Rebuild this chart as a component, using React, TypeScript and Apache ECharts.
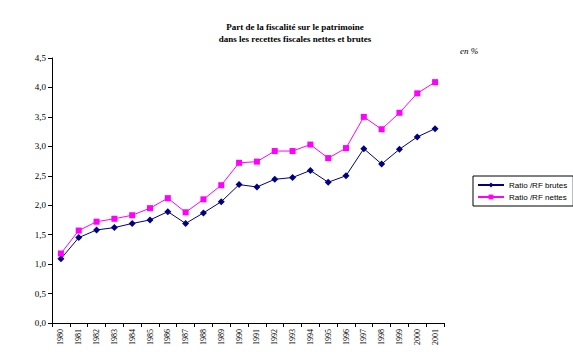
import React, { useEffect, useRef } from "react";
import * as echarts from "echarts";

const years = ["1980","1981","1982","1983","1984","1985","1986","1987","1988","1989","1990","1991","1992","1993","1994","1995","1996","1997","1998","1999","2000","2001"];
const ratioBrutes = [1.09,1.45,1.58,1.62,1.69,1.75,1.89,1.69,1.87,2.06,2.35,2.31,2.44,2.47,2.59,2.39,2.50,2.96,2.70,2.95,3.16,3.30];
const ratioNettes = [1.18,1.57,1.72,1.77,1.83,1.95,2.12,1.88,2.10,2.34,2.72,2.74,2.92,2.92,3.03,2.80,2.97,3.50,3.29,3.57,3.90,4.09];
const yTicks = [0, 0.5, 1, 1.5, 2, 2.5, 3, 3.5, 4, 4.5];

export default function App() {
  const ref = useRef<HTMLDivElement>(null);
  useEffect(() => {
    if (!ref.current) return;
    const chart = echarts.init(ref.current, null, { renderer: "svg" });
    const serif = "'Liberation Serif', 'DejaVu Serif', serif";
    chart.setOption({
      animation: false,
      backgroundColor: "#ffffff",
      title: [
        {
          text: "Part de la fiscalité sur le patrimoine\ndans les recettes fiscales nettes et brutes",
          left: 290,
          top: 16,
          textAlign: "center",
          textStyle: { fontFamily: serif, fontSize: 9, fontWeight: "bold", color: "#000", lineHeight: 12 },
        },
        {
          text: "en %",
          left: 455,
          top: 41,
          textStyle: { fontFamily: serif, fontSize: 9, fontStyle: "italic", fontWeight: "normal", color: "#000" },
        },
      ],
      legend: {
        orient: "vertical",
        left: 473,
        top: 176,
        itemWidth: 26,
        itemHeight: 6,
        itemGap: 4,
        padding: [5, 6, 5, 4],
        borderColor: "#000",
        borderWidth: 1,
        textStyle: { fontFamily: "'Liberation Sans', Arial, sans-serif", fontSize: 8, color: "#000" },
        data: ["Ratio /RF brutes", "Ratio /RF nettes"],
      },
      grid: { left: 52, right: 129, top: 58, bottom: 35, containLabel: false },
      xAxis: {
        type: "category",
        data: years,
        boundaryGap: true,
        axisLine: { lineStyle: { color: "#000", width: 1 } },
        axisTick: { show: true, lineStyle: { color: "#000" }, length: 4 },
        axisLabel: { rotate: 90, fontFamily: serif, fontSize: 8, color: "#000", margin: 6, interval: 0 },
        splitLine: { show: false },
      },
      yAxis: {
        type: "value",
        min: 0,
        max: 4.5,
        interval: 0.5,
        axisLine: { show: true, lineStyle: { color: "#000", width: 1 } },
        axisTick: { show: true, lineStyle: { color: "#000" }, length: 4 },
        axisLabel: {
          fontFamily: serif,
          fontSize: 9,
          color: "#000",
          margin: 6,
          formatter: (v: number) => (yTicks.includes(v) ? v.toFixed(1).replace(".", ",") : ""),
        },
        splitLine: { show: false },
      },
      series: [
        {
          name: "Ratio /RF brutes",
          type: "line",
          data: ratioBrutes,
          symbol: "diamond",
          symbolSize: 7,
          itemStyle: { color: "#000080" },
          lineStyle: { color: "#000080", width: 1 },
        },
        {
          name: "Ratio /RF nettes",
          type: "line",
          data: ratioNettes,
          symbol: "rect",
          symbolSize: 6,
          itemStyle: { color: "#ff00ff" },
          lineStyle: { color: "#ff00ff", width: 1 },
        },
      ],
    });
    return () => chart.dispose();
  }, []);
  return <div ref={ref} style={{ width: 573, height: 358, position: "absolute", left: 0, top: 0 }} />;
}
